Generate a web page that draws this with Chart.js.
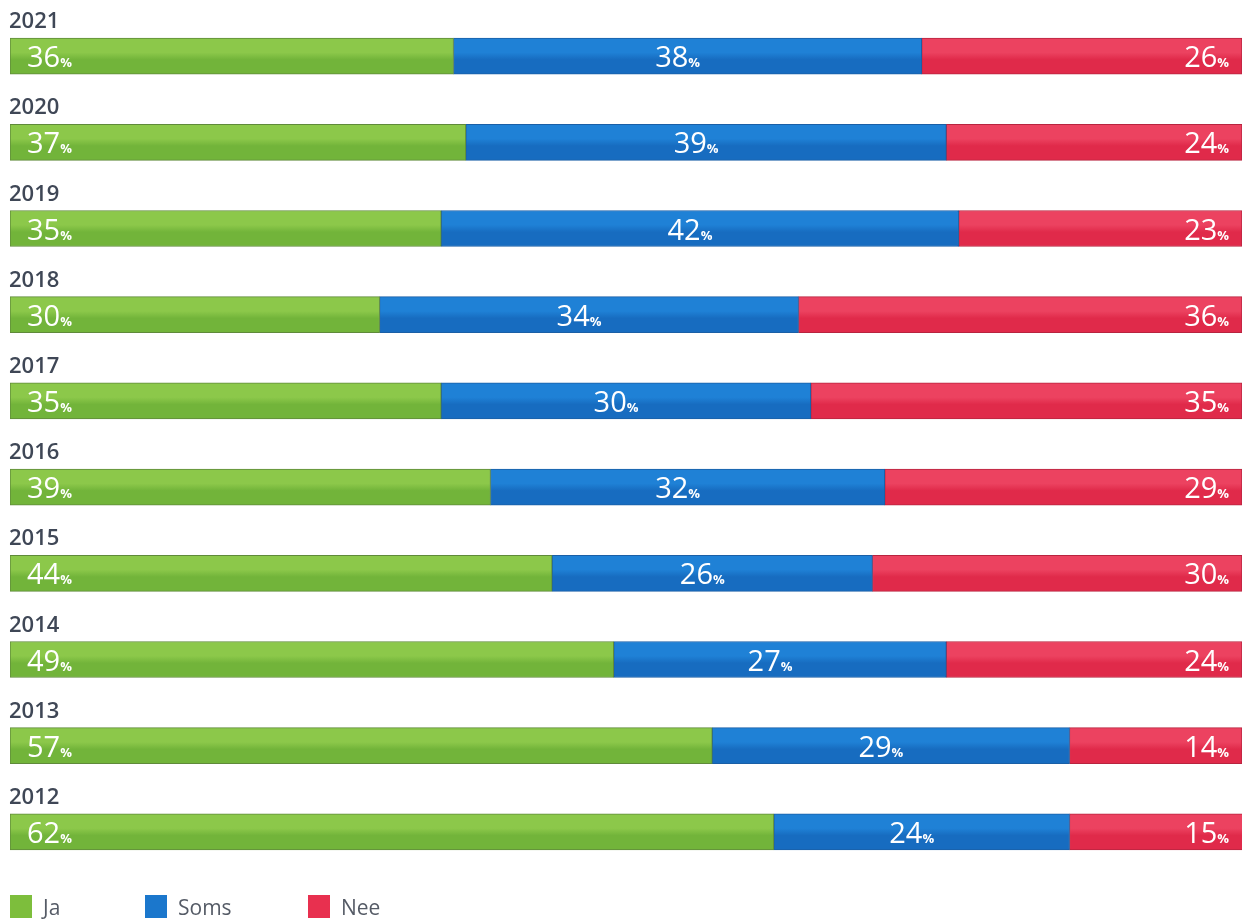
<!DOCTYPE html>
<html>
<head>
<meta charset="utf-8">
<script src="https://cdn.jsdelivr.net/npm/chart.js@4.4.1/dist/chart.umd.min.js"></script>
<style>
  html, body { margin: 0; padding: 0; background: #fff; }
  #wrap { width: 1249px; height: 921px; position: relative; }
</style>
</head>
<body>
<div id="wrap"><canvas id="chart"></canvas></div>
<script>
// data
const years = ["2021", "2020", "2019", "2018", "2017", "2016", "2015", "2014", "2013", "2012"];
const ja   = [36, 37, 35, 30, 35, 39, 44, 49, 57, 62];
const soms = [38, 39, 42, 34, 30, 32, 26, 27, 29, 24];
const nee  = [26, 24, 23, 36, 35, 29, 30, 24, 14, 15];
const seriesNames = ["Ja", "Soms", "Nee"];

const colors    = ["#7dbe3c", "#1b77cc", "#e8304f"];
const topColors = ["#8cc84a", "#1f81d6", "#ec4260"];
const botColors = ["#72b43a", "#176cc0", "#e02a4a"];
const borders   = ["#5f8a3a", "#1a5fa6", "#b8243f"];

const BAR_H = 36;

// slightly lighter top, darker bottom like the reference
function barFill(i) {
    return (c) => {
        const chart = c.chart;
        const y = chart.scales && chart.scales.y;
        if (!chart.chartArea || !y || c.dataIndex === undefined) return colors[i];
        const mid = y.getPixelForValue(c.dataIndex);
        const g = chart.ctx.createLinearGradient(0, mid - BAR_H / 2, 0, mid + BAR_H / 2);
        g.addColorStop(0, topColors[i]);
        g.addColorStop(0.4, topColors[i]);
        g.addColorStop(0.6, botColors[i]);
        g.addColorStop(1, botColors[i]);
        return g;
    };
}

// year above each bar, left aligned
const yearLabels = {
    id: "yearLabels",
    afterDatasetsDraw(chart) {
        const ctx = chart.ctx;
        const meta = chart.getDatasetMeta(0);
        ctx.save();
        ctx.font = "600 22px 'Open Sans', sans-serif";
        ctx.fillStyle = "#3f4756";
        ctx.textAlign = "left";
        ctx.textBaseline = "alphabetic";
        meta.data.forEach((bar, i) => {
            const top = bar.y - bar.height / 2;
            ctx.fillText(years[i], 9, top - 10);
        });
        ctx.restore();
    }
};

// white percentages inside the segments
const NUM_FONT = "29px 'Open Sans', sans-serif";
const PCT_FONT = "bold 13px 'Open Sans', sans-serif";
const valueLabels = {
    id: "valueLabels",
    afterDatasetsDraw(chart) {
        const ctx = chart.ctx;
        const right = chart.chartArea.right;
        ctx.save();
        ctx.fillStyle = "#ffffff";
        ctx.textBaseline = "alphabetic";
        chart.data.datasets.forEach((ds, di) => {
            const meta = chart.getDatasetMeta(di);
            meta.data.forEach((bar, i) => {
                const num = String(ds.data[i]);
                ctx.font = NUM_FONT;
                const wNum = ctx.measureText(num).width;
                ctx.font = PCT_FONT;
                const wPct = ctx.measureText("%").width;
                const total = wNum + wPct;
                const end = Math.min(bar.x, right);
                let x;
                if (di === 0) x = bar.base + 17;
                else if (di === 1) x = (bar.base + end) / 2 - total / 2 - 10;
                else x = end - 13 - total;
                const yBase = bar.y + 11;
                ctx.font = NUM_FONT;
                ctx.fillText(num, x, yBase);
                ctx.font = PCT_FONT;
                ctx.fillText("%", x + wNum, yBase);
            });
        });
        ctx.restore();
    }
};

// legend drawn bottom-left
const bottomLegend = {
    id: "bottomLegend",
    afterDraw(chart) {
        const ctx = chart.ctx;
        const xs = [10, 145, 308];
        ctx.save();
        ctx.font = "21px 'Open Sans', sans-serif";
        ctx.textBaseline = "middle";
        chart.data.datasets.forEach((ds, di) => {
            ctx.fillStyle = colors[di];
            ctx.fillRect(xs[di], 895, 22, 23);
            ctx.fillStyle = "#555b66";
            ctx.fillText(ds.label, xs[di] + 33, 909);
        });
        ctx.restore();
    }
};

const chartData = {
    labels: years,
    datasets: [ja, soms, nee].map((vals, i) => ({
        label: seriesNames[i],
        data: vals,
        backgroundColor: barFill(i),
        borderColor: borders[i],
        borderWidth: 1,
        borderSkipped: false,
        barThickness: BAR_H
    }))
};

new Chart(document.getElementById("chart"), {
    type: "bar",
    data: chartData,
    options: {
        indexAxis: "y",
        responsive: true,
        maintainAspectRatio: false,
        animation: false,
        layout: { padding: { left: 10, right: 7, top: 13, bottom: 46 } },
        scales: {
            x: { stacked: true, min: 0, max: 100, display: false },
            y: { stacked: true, display: false }
        },
        plugins: {
            legend: { display: false },
            tooltip: { enabled: false }
        }
    },
    plugins: [yearLabels, valueLabels, bottomLegend]
});
</script>
</body>
</html>
